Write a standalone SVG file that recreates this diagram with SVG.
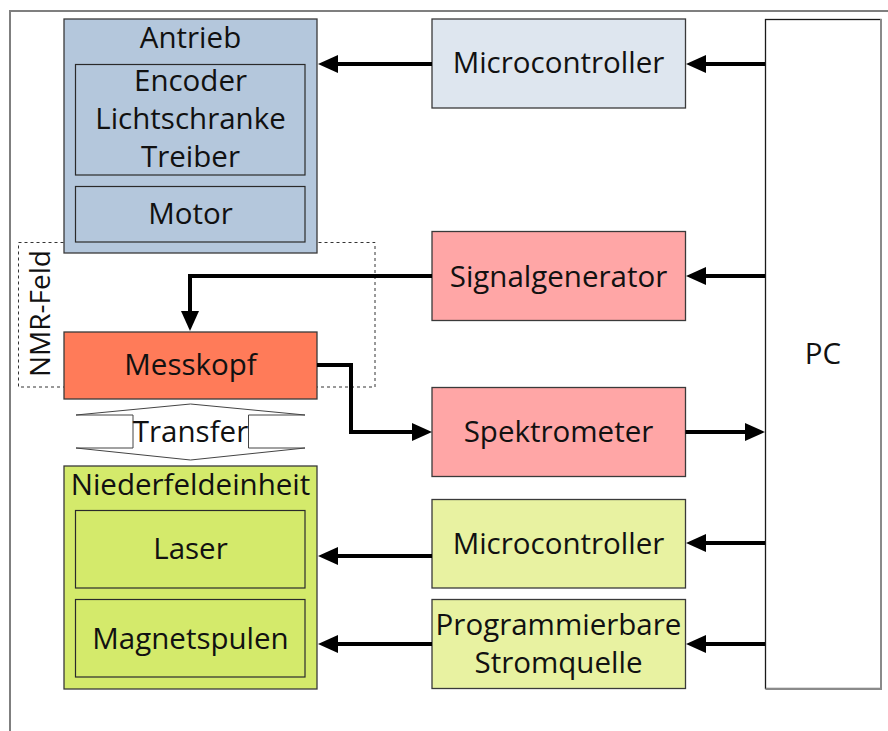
<svg xmlns="http://www.w3.org/2000/svg" width="888" height="731" viewBox="0 0 888 731">
  <style>
    text { font-family: "Open Sans", "Noto Sans", "DejaVu Sans", sans-serif; font-size: 29.5px; fill: #111; text-anchor: middle; }
    .vlabel { font-size: 28px; }
    .box { stroke: #3a3a3a; stroke-width: 1.3; }
    .inner { fill: none; stroke: #2a2a2a; stroke-width: 1.2; }
    .frame { fill: none; stroke: #7f7f7f; stroke-width: 2; }
    .conn { fill: none; stroke: #000; stroke-width: 4; stroke-linejoin: miter; marker-end: url(#arrow); }
    .blue2 { fill: #b4c7dc; }
    .blue4 { fill: #dee6ef; }
    .red2 { fill: #ffa6a6; }
    .brick { fill: #ff7b59; }
    .lime2 { fill: #d4ea6b; }
    .lime3 { fill: #e8f2a1; }
  </style>
  <defs>
    <marker id="arrow" markerUnits="userSpaceOnUse" markerWidth="20" markerHeight="18" refX="8" refY="9" orient="auto" overflow="visible">
      <path d="M0,0 L20,9 L0,18 Z" fill="#000"/>
    </marker>
  </defs>

  <rect x="0" y="0" width="888" height="731" fill="#fff"/>

  <!-- page frame -->
  <path class="frame" d="M10,731 V11 H888"/>

  <!-- field region -->
  <g id="nmr-feld">
    <rect x="18.5" y="242.5" width="356.5" height="144.5" fill="none" stroke="#333" stroke-width="1" stroke-dasharray="3,3"/>
    <text class="vlabel" transform="translate(50,313.5) rotate(-90)">NMR-Feld</text>
  </g>

  <g id="antrieb">
    <rect class="box blue2" x="64" y="19" width="253" height="234"/>
    <text x="190.5" y="48">Antrieb</text>
    <rect class="inner" x="75.5" y="64.5" width="229.5" height="110.5"/>
    <text x="190.5" y="91">Encoder</text>
    <text x="190.5" y="129">Lichtschranke</text>
    <text x="190.5" y="167">Treiber</text>
    <rect class="inner" x="75.5" y="186.5" width="229.5" height="55.5"/>
    <text x="190.5" y="224">Motor</text>
  </g>

  <g id="messkopf">
    <rect class="box brick" x="64" y="332" width="253" height="67"/>
    <text x="190.5" y="375">Messkopf</text>
  </g>

  <g id="transfer">
    <path d="M76,415 L190.5,404 L305,415 H248.5 V448 H305 L190.5,460 L76,448 H133 V415 Z" fill="#fff" stroke="#444" stroke-width="1"/>
    <text x="190.5" y="442">Transfer</text>
  </g>

  <g id="niederfeldeinheit">
    <rect class="box lime2" x="64" y="466" width="253" height="223"/>
    <text x="190.5" y="495">Niederfeldeinheit</text>
    <rect class="inner" x="75.5" y="510.5" width="229.5" height="77.5"/>
    <text x="190.5" y="559">Laser</text>
    <rect class="inner" x="75.5" y="599.5" width="229.5" height="77.5"/>
    <text x="190.5" y="649">Magnetspulen</text>
  </g>

  <g id="microcontroller-antrieb">
    <rect class="box blue4" x="432" y="19" width="253.5" height="89"/>
    <text x="558.5" y="73">Microcontroller</text>
  </g>

  <g id="signalgenerator">
    <rect class="box red2" x="432" y="231.5" width="253.5" height="89"/>
    <text x="558.5" y="287">Signalgenerator</text>
  </g>

  <g id="spektrometer">
    <rect class="box red2" x="432" y="387.5" width="253.5" height="89"/>
    <text x="558.5" y="442">Spektrometer</text>
  </g>

  <g id="microcontroller-niederfeld">
    <rect class="box lime3" x="432" y="499.5" width="253.5" height="88.5"/>
    <text x="558.5" y="554">Microcontroller</text>
  </g>

  <g id="stromquelle">
    <rect class="box lime3" x="432" y="599.5" width="253.5" height="89"/>
    <text x="558.5" y="635">Programmierbare</text>
    <text x="558.5" y="673">Stromquelle</text>
  </g>

  <g id="pc">
    <rect x="765.5" y="19.5" width="115.5" height="669" fill="#fff" stroke="#1a1a1a" stroke-width="1.3"/>
    <path d="M881,19 V689 H765.5" fill="none" stroke="#8a8a8a" stroke-width="2"/>
    <text x="823" y="364">PC</text>
  </g>

  <g id="connectors">
    <path class="conn" d="M765,64 H698"/>
    <path class="conn" d="M432,64 H330"/>
    <path class="conn" d="M765,276 H698"/>
    <path class="conn" d="M432,276 H190 V319"/>
    <path class="conn" d="M317,365 H351 V432 H420"/>
    <path class="conn" d="M685.5,432 H753"/>
    <path class="conn" d="M765,543 H698"/>
    <path class="conn" d="M432,556 H330"/>
    <path class="conn" d="M765,644 H698"/>
    <path class="conn" d="M432,644 H330"/>
  </g>
</svg>
